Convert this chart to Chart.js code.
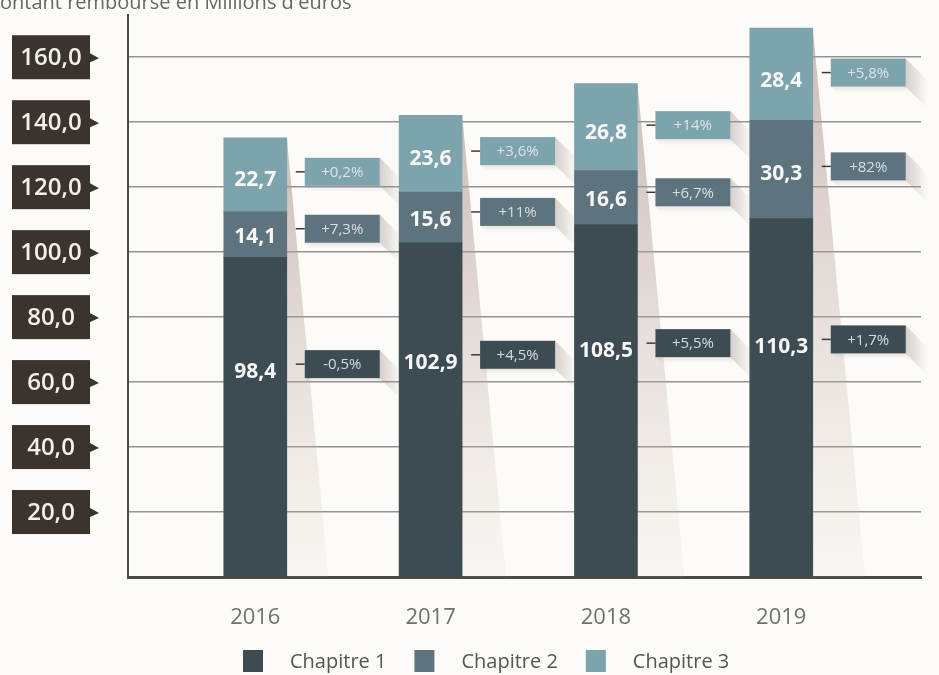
<!DOCTYPE html>
<html lang="fr">
<head>
<meta charset="UTF-8">
<title>Montant remboursé en Millions d'euros</title>
<script src="https://cdn.jsdelivr.net/npm/chart.js"></script>
<style>
  html, body { margin: 0; padding: 0; background: #fcfbf8; }
  canvas { display: block; }
</style>
</head>
<body>
<canvas id="chart" width="939" height="675"></canvas>
<script>
const years = [2016, 2017, 2018, 2019];
const chap1 = [98.4, 102.9, 108.5, 110.3];
const chap2 = [14.1, 15.6, 16.6, 30.3];
const chap3 = [22.7, 23.6, 26.8, 28.4];
const evol1 = ['-0,5%', '+4,5%', '+5,5%', '+1,7%'];
const evol2 = ['+7,3%', '+11%', '+6,7%', '+82%'];
const evol3 = ['+0,2%', '+3,6%', '+14%', '+5,8%'];
const seriesNames = ['Chapitre 1', 'Chapitre 2', 'Chapitre 3'];
const seriesColors = ['#3d4b53', '#5d737d', '#7da3ad'];
const yTicks = [0, 20, 40, 60, 80, 100, 120, 140, 160];
const title = "Montant remboursé en Millions d'euros";

const FONT = '"Open Sans", "DejaVu Sans", sans-serif';
const fr = v => v.toFixed(1).replace('.', ',');
const evols = [evol1, evol2, evol3];
// where the value label sits inside each segment (share of its height from the bottom)
const labelPos = [0.64, 0.45, 0.43];

const decor = {
  id: 'decor',
  beforeDraw(chart) {
    const ctx = chart.ctx;
    ctx.save();
    ctx.fillStyle = '#fcfbf8';
    ctx.fillRect(0, 0, chart.width, chart.height);
    ctx.font = '20px ' + FONT;
    ctx.fillStyle = '#666';
    ctx.textBaseline = 'alphabetic';
    ctx.fillText(title, -ctx.measureText('M').width, 9);
    ctx.restore();
  },
  beforeDatasetsDraw(chart) {
    // wedge shadow falling to the right of each bar
    const ctx = chart.ctx;
    const base = chart.scales.y.getPixelForValue(0);
    ctx.save();
    chart.getDatasetMeta(2).data.forEach(el => {
      const r = el.x + el.width / 2, t = el.y;
      const g = ctx.createLinearGradient(0, t, 0, base);
      g.addColorStop(0, 'rgba(170,145,140,0.6)');
      g.addColorStop(1, 'rgba(200,185,180,0.08)');
      ctx.fillStyle = g;
      ctx.beginPath();
      ctx.moveTo(r, t);
      ctx.lineTo(r + (base - t) * 0.095, base);
      ctx.lineTo(r, base);
      ctx.closePath();
      ctx.fill();
    });
    ctx.restore();
  },
  afterDatasetsDraw(chart) {
    const ctx = chart.ctx;
    ctx.save();
    ctx.textAlign = 'center';
    ctx.textBaseline = 'middle';
    chart.data.datasets.forEach((ds, i) => {
      chart.getDatasetMeta(i).data.forEach((el, j) => {
        const v = ds.data[j].y;
        const ly = el.base - (el.base - el.y) * labelPos[i];
        ctx.font = 'bold 21px ' + FONT;
        ctx.fillStyle = '#f7f7f5';
        ctx.fillText(fr(v), el.x, ly);

        // change callout
        const w = 75, h = 28, d = 22;
        const L = el.x + el.width / 2 + 18, R = L + w;
        const T = ly - 8 - h / 2, B = T + h;
        let g = ctx.createLinearGradient(R, 0, R + d, 0);
        g.addColorStop(0, 'rgba(160,140,135,0.4)');
        g.addColorStop(1, 'rgba(160,140,135,0)');
        ctx.fillStyle = g;
        ctx.beginPath();
        ctx.moveTo(R, T); ctx.lineTo(R + d, T + d); ctx.lineTo(R + d, B + d); ctx.lineTo(R, B);
        ctx.closePath(); ctx.fill();
        g = ctx.createLinearGradient(0, B, 0, B + 6);
        g.addColorStop(0, 'rgba(160,140,135,0.2)');
        g.addColorStop(1, 'rgba(160,140,135,0)');
        ctx.fillStyle = g;
        ctx.beginPath();
        ctx.moveTo(L, B); ctx.lineTo(R, B); ctx.lineTo(R + 6, B + 6); ctx.lineTo(L + 6, B + 6);
        ctx.closePath(); ctx.fill();

        ctx.fillStyle = seriesColors[i];
        ctx.fillRect(L, T, w, h);
        ctx.strokeStyle = '#3a3a3a';
        ctx.lineWidth = 1.5;
        ctx.beginPath();
        ctx.moveTo(L - 9, T + h / 2); ctx.lineTo(L, T + h / 2);
        ctx.stroke();
        ctx.font = '15px ' + FONT;
        ctx.fillStyle = 'rgba(232,238,240,0.88)';
        ctx.fillText(evols[i][j], L + w / 2, T + h / 2 + 1);
      });
    });
    ctx.restore();
  },
  afterDraw(chart) {
    const ctx = chart.ctx, ys = chart.scales.y;
    ctx.save();
    // boxed value labels of the vertical axis
    ctx.textAlign = 'center';
    ctx.textBaseline = 'middle';
    ctx.font = '600 24px ' + FONT;
    ys.ticks.forEach(t => {
      if (t.value === 0) return;
      const y = ys.getPixelForValue(t.value);
      ctx.fillStyle = '#3b342e';
      ctx.fillRect(12, y - 22, 78, 44);
      ctx.beginPath();
      ctx.moveTo(90, y - 4); ctx.lineTo(99, y + 1); ctx.lineTo(90, y + 5);
      ctx.closePath(); ctx.fill();
      ctx.fillStyle = '#f3efe9';
      ctx.fillText(fr(t.value), 51, y + 1);
    });

    // legend
    ctx.textAlign = 'left';
    ctx.font = '20px ' + FONT;
    let x = 243;
    seriesNames.forEach((name, i) => {
      ctx.fillStyle = seriesColors[i];
      ctx.fillRect(x, 650, 20, 22);
      ctx.fillStyle = '#555';
      ctx.fillText(name, x + 47, 662);
      x += 47 + ctx.measureText(name).width + 28;
    });
    ctx.restore();
  }
};

const datasets = [chap1, chap2, chap3].map((vals, i) => ({
  label: seriesNames[i],
  data: years.map((yr, j) => ({ x: yr, y: vals[j] })),
  backgroundColor: seriesColors[i],
  barThickness: 63
}));

new Chart(document.getElementById('chart'), {
  type: 'bar',
  data: { datasets },
  options: {
    responsive: false,
    animation: false,
    layout: { padding: { top: 15, right: 18, left: 0, bottom: 0 } },
    plugins: { legend: { display: false }, tooltip: { enabled: false } },
    scales: {
      x: {
        type: 'linear',
        stacked: true,
        offset: false,
        min: 2015.274,
        max: 2019.797,
        afterBuildTicks: s => { s.ticks = years.map(v => ({ value: v })); },
        afterFit: s => { s.height = 98; },
        grid: { display: false, drawTicks: false, offset: false },
        border: { display: true, color: '#4a4a4a', width: 3 },
        ticks: {
          padding: 28,
          color: '#707070',
          font: { family: FONT, size: 22 },
          callback: v => String(v)
        }
      },
      y: {
        stacked: true,
        min: 0,
        max: 173,
        afterBuildTicks: s => { s.ticks = yTicks.map(v => ({ value: v })); },
        afterFit: s => { s.width = 128; },
        grid: {
          drawTicks: false,
          lineWidth: 1.5,
          color: c => c.tick && c.tick.value === 0 ? 'transparent' : '#939393'
        },
        border: { display: true, color: '#4a4a4a', width: 2 },
        ticks: { display: false }
      }
    }
  },
  plugins: [decor]
});
</script>
</body>
</html>
